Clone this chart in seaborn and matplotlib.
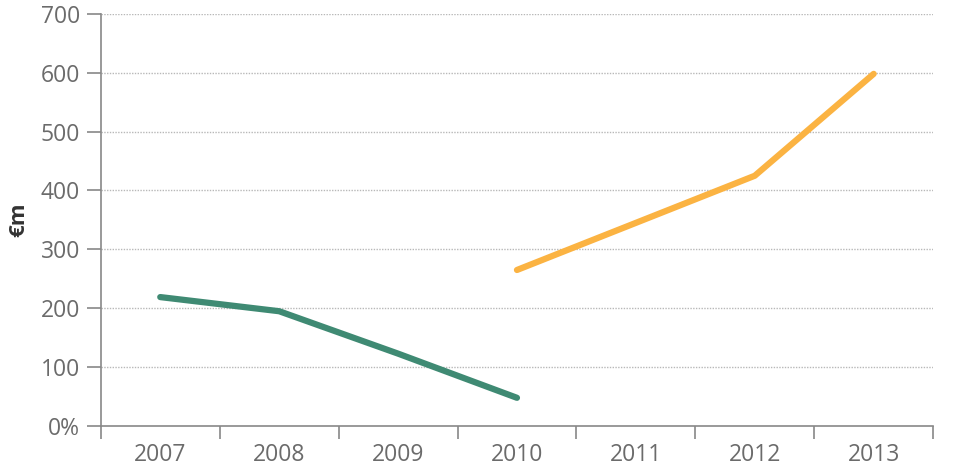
import pandas as pd
import matplotlib.pyplot as plt
import seaborn as sns

years = ['2007', '2008', '2009', '2010', '2011', '2012', '2013']
green_values = [219, 195, 123, 48, None, None, None]
orange_values = [None, None, None, 265, 345, 425, 598]
y_ticks = [0, 100, 200, 300, 400, 500, 600, 700]
y_tick_labels = ['0%', '100', '200', '300', '400', '500', '600', '700']

rows = []
for i, yr in enumerate(years):
    if green_values[i] is not None:
        rows.append({'pos': i, 'value': green_values[i], 'series': 'green'})
    if orange_values[i] is not None:
        rows.append({'pos': i, 'value': orange_values[i], 'series': 'orange'})
df = pd.DataFrame(rows)

sns.set_style('white')
plt.rcParams['font.family'] = ['Open Sans', 'DejaVu Sans']

grey = '#6b6b6b'
fig = plt.figure(figsize=(9.6, 4.75), dpi=100)
ax = fig.add_axes([0.105, 0.103, 0.867, 0.868])

sns.lineplot(data=df, x='pos', y='value', hue='series',
             palette={'green': '#3f8a73', 'orange': '#fbb342'},
             linewidth=4.5, legend=False, ax=ax, solid_capstyle='round')

ax.set_xlim(-0.5, 6.5)
ax.set_ylim(0, 700)
ax.set_yticks(y_ticks)
ax.set_yticklabels(y_tick_labels)
ax.set_xticks(range(len(years)))
ax.set_xticklabels(years)
ax.set_xticks([i - 0.5 for i in range(len(years) + 1)], minor=True)
ax.tick_params(axis='x', which='major', length=0, pad=12, labelsize=16.5, labelcolor=grey)
ax.tick_params(axis='x', which='minor', length=9, width=1.2, color='#888888', direction='out', bottom=True)
ax.tick_params(axis='y', length=10, width=1.2, color='#888888', pad=5, labelsize=16.5, labelcolor=grey, left=True)

for y in y_ticks[1:]:
    ax.axhline(y, color='#b8b8b8', linewidth=1, linestyle=(0, (1, 1)), zorder=0)

for side in ['top', 'right']:
    ax.spines[side].set_visible(False)
for side in ['left', 'bottom']:
    ax.spines[side].set_color('#888888')
    ax.spines[side].set_linewidth(1.2)

ax.set_xlabel('')
ax.set_ylabel('€m', fontsize=16, fontweight='bold', color='#333333', labelpad=8)

fig.savefig('out.png', dpi=100)
